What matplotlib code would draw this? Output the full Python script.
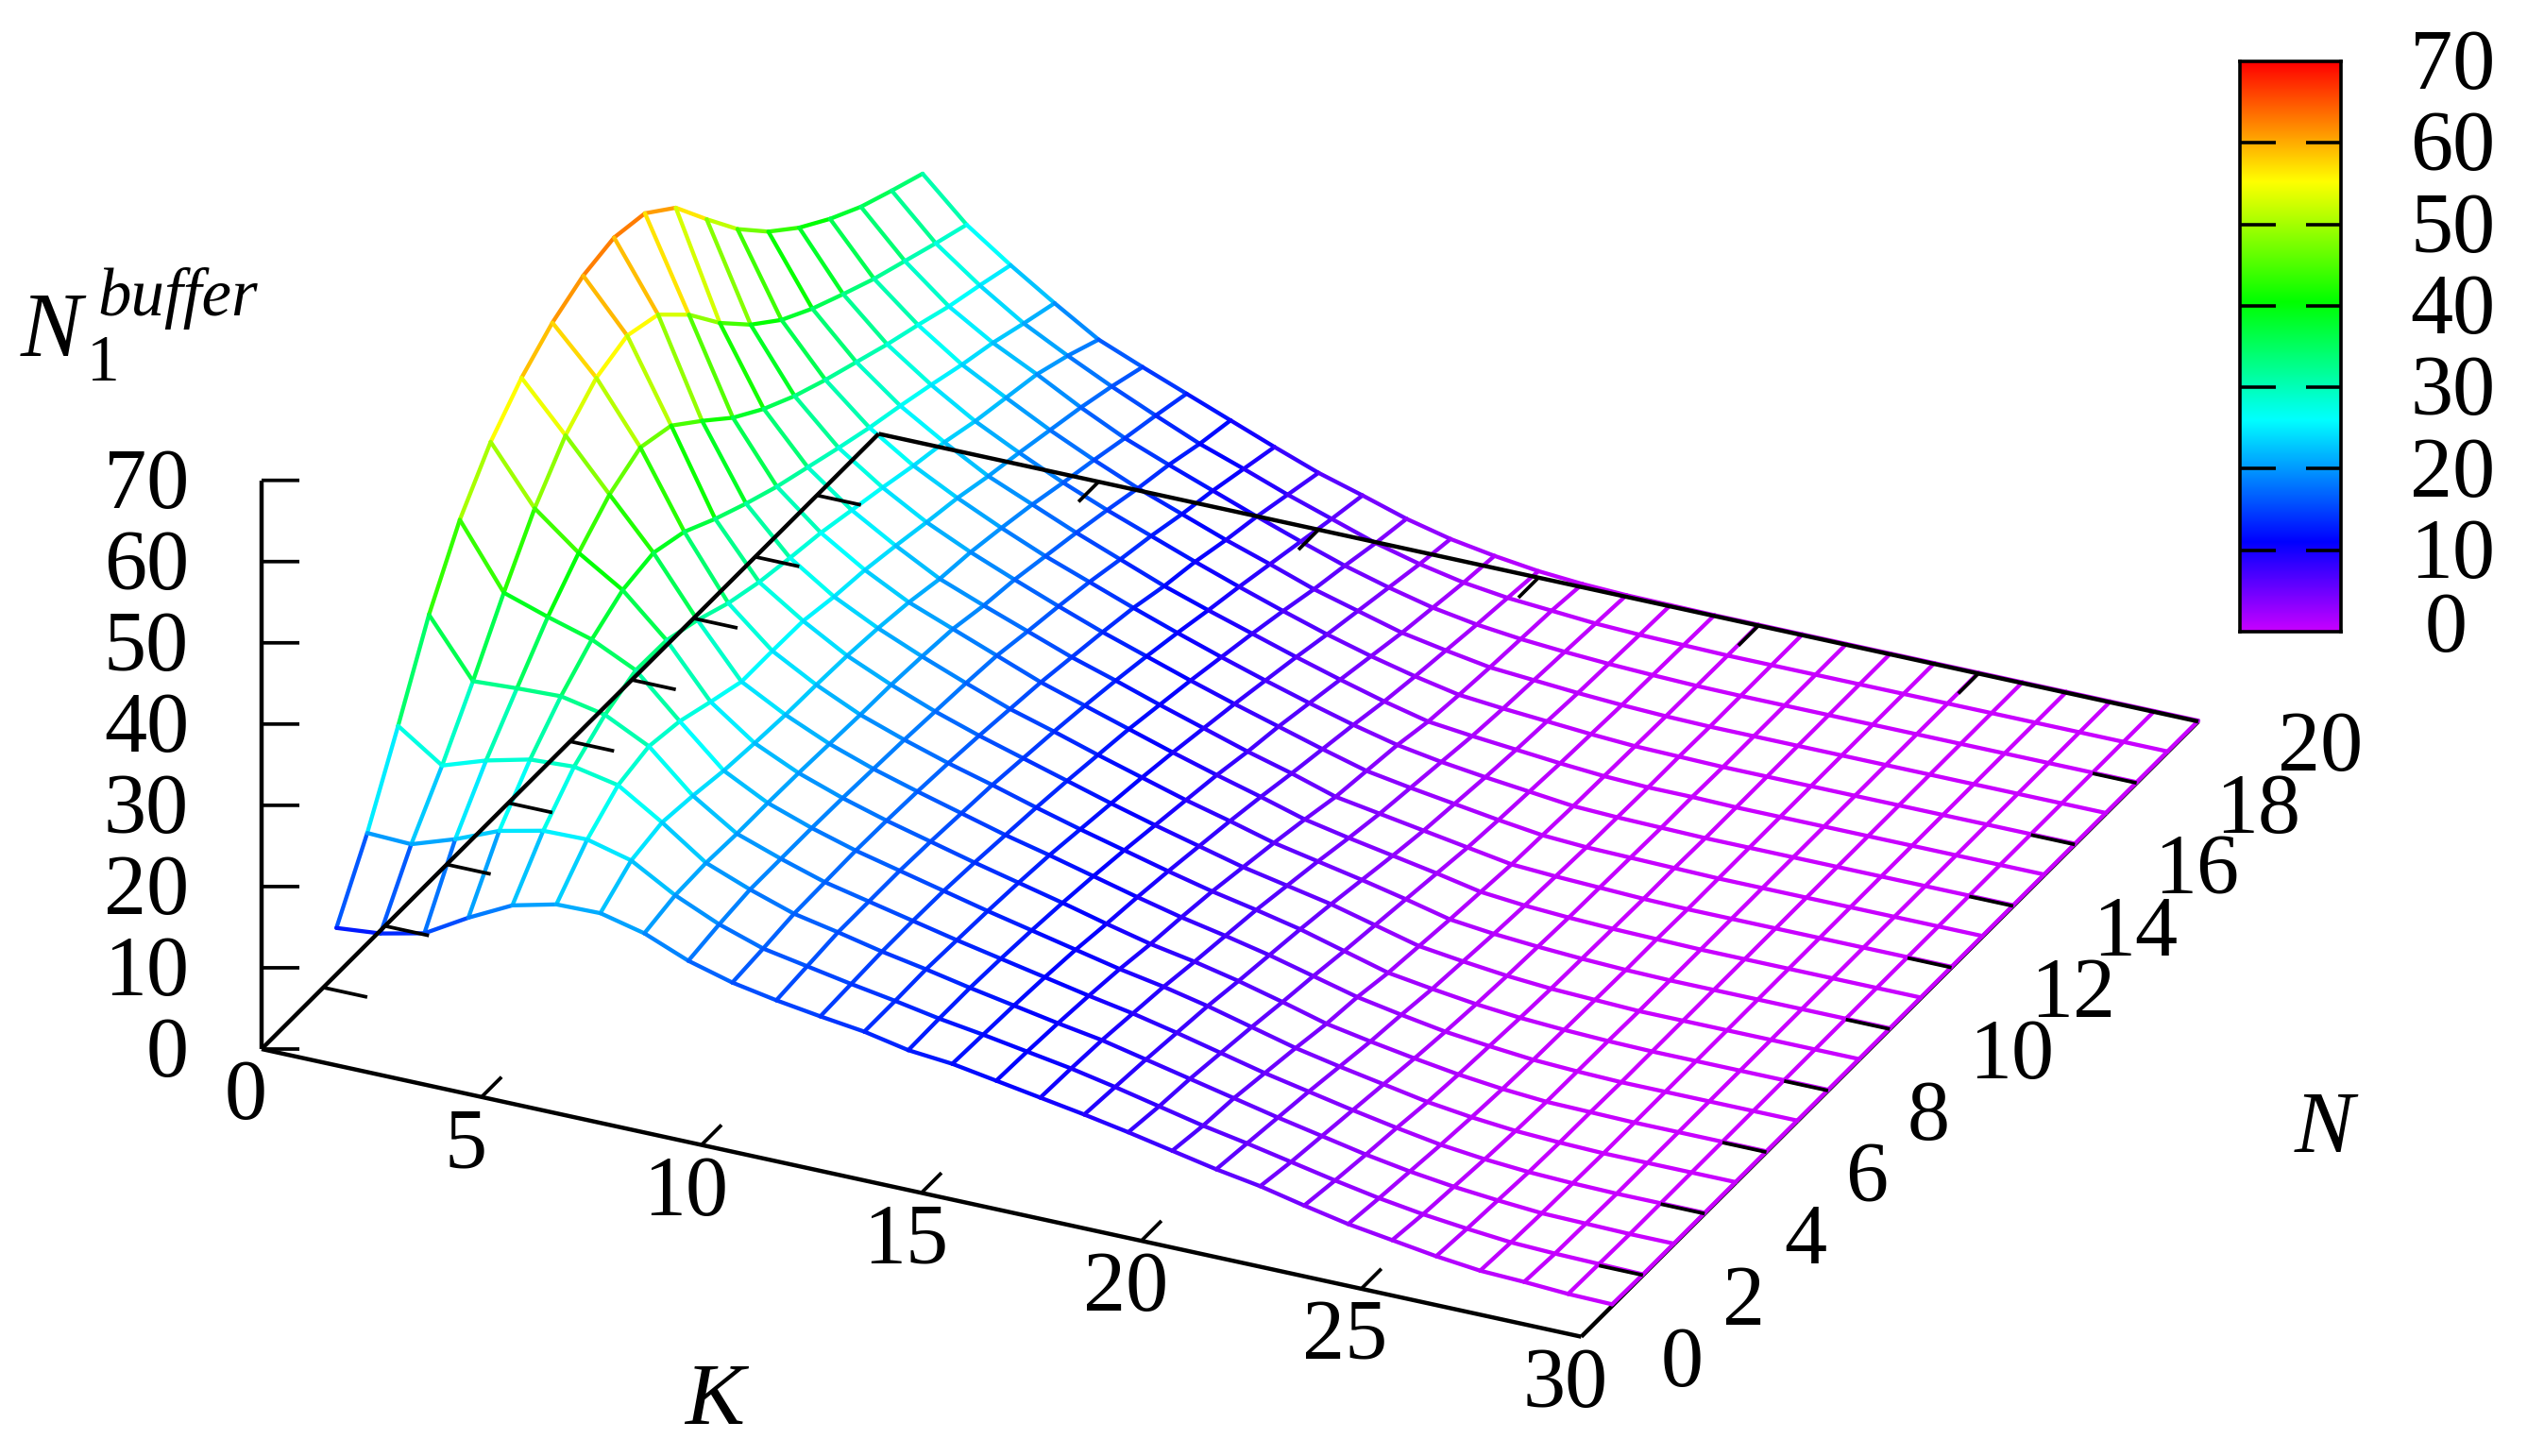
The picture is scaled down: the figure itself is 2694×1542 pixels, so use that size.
import numpy as np
import matplotlib
matplotlib.use("Agg")
import matplotlib.pyplot as plt
from matplotlib.colors import LinearSegmentedColormap, Normalize
from mpl_toolkits.mplot3d import proj3d
from mpl_toolkits.mplot3d.art3d import Line3DCollection

W, H = 2694, 1542
plt.rcParams['font.family'] = ['Liberation Serif', 'DejaVu Serif']

ks = list(range(1, 31))
ns = list(range(1, 21))

# one list per K, values for N = 1..20
k01 = [12.3, 20.2, 29.6, 39.5, 47.4, 53.2, 57.3, 60.3, 62.3, 63.2, 62.4, 59.3, 54.1, 49.1, 45.0, 41.7, 39.0, 36.7, 34.9, 33.2]
k02 = [12.8, 20.0, 25.9, 32.5, 39.6, 46.2, 51.4, 54.7, 56.1, 54.9, 51.1, 46.3, 42.3, 39.1, 36.7, 34.7, 32.8, 31.2, 29.6, 28.1]
k03 = [14.0, 21.8, 27.7, 32.8, 37.8, 41.9, 45.3, 47.3, 46.2, 43.0, 39.6, 36.9, 34.7, 32.9, 31.3, 29.7, 28.3, 26.8, 25.6, 24.3]
k04 = [17.1, 24.0, 29.0, 33.0, 36.2, 38.5, 39.3, 38.1, 35.9, 34.0, 32.3, 30.9, 29.5, 28.2, 27.1, 25.9, 24.6, 23.5, 22.1, 20.8]
k05 = [19.8, 25.2, 29.3, 31.9, 33.6, 33.5, 32.2, 30.5, 29.3, 28.5, 27.8, 26.8, 25.8, 24.7, 23.8, 22.6, 21.7, 20.8, 19.3, 17.5]
k06 = [21.1, 25.3, 28.2, 29.2, 28.5, 27.1, 25.8, 25.8, 25.7, 24.9, 24.4, 23.6, 22.7, 21.9, 20.8, 19.9, 18.9, 17.9, 16.7, 15.3]
k07 = [21.2, 23.9, 24.8, 24.3, 23.6, 23.2, 22.9, 22.8, 22.6, 22.2, 21.6, 20.7, 20.2, 19.4, 18.5, 17.4, 16.4, 15.3, 14.3, 13.2]
k08 = [19.9, 20.8, 21.0, 20.8, 20.8, 20.7, 20.5, 20.3, 20.2, 19.9, 19.5, 18.6, 18.0, 17.1, 16.2, 15.2, 14.1, 13.2, 12.0, 11.1]
k09 = [17.7, 18.4, 18.9, 18.9, 18.9, 18.8, 18.6, 18.4, 18.1, 17.8, 17.4, 16.6, 15.9, 15.1, 14.1, 13.2, 12.1, 11.2, 10.1, 9.0]
k10 = [16.2, 16.6, 17.1, 17.2, 17.3, 17.2, 17.0, 16.7, 16.3, 15.8, 15.3, 14.6, 13.9, 13.1, 12.0, 11.2, 10.1, 9.2, 8.1, 7.0]
k11 = [15.2, 15.6, 16.0, 16.0, 16.0, 15.8, 15.5, 15.2, 14.7, 14.2, 13.6, 12.9, 12.1, 11.2, 10.2, 9.3, 8.3, 7.3, 6.3, 5.4]
k12 = [14.4, 14.6, 14.8, 14.8, 14.7, 14.4, 14.0, 13.6, 13.1, 12.5, 11.9, 11.1, 10.3, 9.4, 8.5, 7.5, 6.4, 5.5, 4.5, 3.7]
k13 = [13.7, 13.7, 13.8, 13.6, 13.4, 13.1, 12.7, 12.1, 11.5, 10.9, 10.2, 9.4, 8.6, 7.7, 6.8, 5.8, 4.9, 4.0, 3.1, 2.4]
k14 = [12.6, 12.7, 12.7, 12.5, 12.2, 11.8, 11.3, 10.7, 10.0, 9.3, 8.6, 7.7, 7.0, 6.1, 5.2, 4.3, 3.4, 2.7, 2.0, 1.5]
k15 = [12.1, 11.9, 11.7, 11.4, 11.0, 10.4, 9.9, 9.3, 8.6, 7.9, 7.1, 6.2, 5.4, 4.6, 3.7, 3.0, 2.4, 1.8, 1.3, 0.8]
k16 = [11.2, 11.0, 10.7, 10.3, 9.8, 9.1, 8.6, 8.0, 7.2, 6.4, 5.5, 4.5, 3.9, 3.3, 2.4, 1.9, 1.5, 1.2, 0.9, 0.4]
k17 = [10.3, 10.1, 9.8, 9.3, 8.8, 8.1, 7.5, 6.9, 6.1, 5.3, 4.4, 3.6, 3.0, 2.4, 1.8, 1.4, 1.1, 0.8, 0.5, 0.2]
k18 = [9.4, 9.0, 8.6, 8.1, 7.6, 6.9, 6.3, 5.7, 5.0, 4.2, 3.4, 2.7, 2.2, 1.7, 1.3, 1.0, 0.7, 0.5, 0.3, 0.15]
k19 = [8.4, 7.8, 7.4, 6.8, 6.2, 5.5, 4.9, 4.2, 3.6, 3.0, 2.4, 1.8, 1.4, 1.1, 0.8, 0.6, 0.4, 0.3, 0.2, 0.1]
k20 = [7.3, 6.6, 6.2, 5.5, 4.8, 4.0, 3.5, 2.7, 2.2, 1.7, 1.3, 0.9, 0.7, 0.5, 0.4, 0.3, 0.2, 0.15, 0.1, 0.1]
k21 = [6.2, 5.6, 5.0, 4.4, 3.7, 3.0, 2.5, 1.9, 1.5, 1.1, 0.8, 0.6, 0.4, 0.3, 0.2, 0.2, 0.1, 0.1, 0.1, 0.1]
k22 = [5.3, 4.5, 3.9, 3.3, 2.7, 2.1, 1.6, 1.2, 0.9, 0.7, 0.5, 0.4, 0.3, 0.2, 0.2, 0.1, 0.1, 0.1, 0.1, 0.1]
k23 = [4.1, 3.4, 2.8, 2.3, 1.7, 1.3, 1.0, 0.7, 0.5, 0.4, 0.3, 0.2, 0.2, 0.1, 0.1, 0.1, 0.1, 0.1, 0.1, 0.1]
k24 = [3.0, 2.4, 1.9, 1.4, 1.0, 0.7, 0.5, 0.4, 0.3, 0.2, 0.2, 0.1, 0.1, 0.1, 0.1, 0.1, 0.1, 0.1, 0.1, 0.1]
k25 = [2.2, 1.6, 1.2, 0.8, 0.5, 0.3, 0.25, 0.2, 0.1, 0.1, 0.1, 0.1, 0.1, 0.1, 0.1, 0.1, 0.1, 0.1, 0.1, 0.1]
k26 = [1.4, 1.0, 0.7, 0.4, 0.25, 0.2, 0.1, 0.1, 0.1, 0.1, 0.1, 0.1, 0.1, 0.1, 0.1, 0.1, 0.1, 0.1, 0.1, 0.1]
k27 = [0.8, 0.5, 0.3, 0.2, 0.1, 0.1, 0.1, 0.1, 0.1, 0.1, 0.1, 0.1, 0.1, 0.1, 0.1, 0.1, 0.1, 0.1, 0.1, 0.1]
k28 = [0.6, 0.3, 0.2, 0.1, 0.1, 0.1, 0.1, 0.1, 0.1, 0.1, 0.1, 0.1, 0.1, 0.1, 0.1, 0.1, 0.1, 0.1, 0.1, 0.1]
k29 = [0.3, 0.2, 0.1, 0.1, 0.1, 0.1, 0.1, 0.1, 0.1, 0.1, 0.1, 0.1, 0.1, 0.1, 0.1, 0.1, 0.1, 0.1, 0.1, 0.1]
k30 = [0.2, 0.1, 0.1, 0.1, 0.1, 0.1, 0.1, 0.1, 0.1, 0.1, 0.1, 0.1, 0.1, 0.1, 0.1, 0.1, 0.1, 0.1, 0.1, 0.1]

k_ticks = [0, 5, 10, 15, 20, 25, 30]
n_ticks = [0, 2, 4, 6, 8, 10, 12, 14, 16, 18, 20]
z_ticks = [0, 10, 20, 30, 40, 50, 60, 70]

palette_pos = [0, 11 / 70, 26 / 70, 40.5 / 70, 55.3 / 70, 1]
palette_col = ['#c800ff', '#0000ff', '#00ffff', '#00ff00', '#ffff00', '#ff0000']

Z = np.array([k01, k02, k03, k04, k05, k06, k07, k08, k09, k10,
              k11, k12, k13, k14, k15, k16, k17, k18, k19, k20,
              k21, k22, k23, k24, k25, k26, k27, k28, k29, k30])

cmap = LinearSegmentedColormap.from_list('rb', list(zip(palette_pos, palette_col)), N=512)
norm = Normalize(0, 70)

fig = plt.figure(figsize=(W / 100, H / 100), dpi=100, facecolor='white')

# big square axes, the 3d box is scaled into place below
side = 4000
y0 = (H - side) / 2 / H
x0 = (W - side) / 2 / W
ax = fig.add_axes([x0, y0, side / W, side / H], projection='3d', computed_zorder=False)
ax.set_proj_type('ortho')
ax.view_init(elev=27.79, azim=-64.94)
ax.set_xlim(0, 30)
ax.set_ylim(0, 20)
ax.set_zlim(0, 70)
ax.set_axis_off()
aspect = (1, 1, 0.4413)


def to_px(x, y, z):
    xs, ys, _ = proj3d.proj_transform(x, y, z, ax.get_proj())
    return ax.transData.transform((xs, ys))


def label(x, y, z, dx, dy, s, ha):
    # tick label at a pixel offset from its point on the box
    p = to_px(x, y, z)
    fig.text((p[0] + dx) / W, (p[1] - dy) / H, s, ha=ha, va='center', fontsize=fs)


# fit box: K axis 1397.5 px wide, origin at pixel (277, 1111)
ax.set_box_aspect(aspect, zoom=1)
ax.apply_aspect()
span = to_px(30, 0, 0)[0] - to_px(0, 0, 0)[0]
ax.set_box_aspect(aspect, zoom=1397.5 / span)
ax.apply_aspect()
o = to_px(0, 0, 0)
ax.set_position([x0 + (277 - o[0]) / W, y0 + (H - 1111 - o[1]) / H, side / W, side / H])
ax.apply_aspect()

# surface lines, one colour per segment
segs = []
vals = []
for i, k in enumerate(ks):
    for j, n in enumerate(ns):
        if j < len(ns) - 1:
            segs.append([(k, n, Z[i, j]), (k, ns[j + 1], Z[i, j + 1])])
            vals.append((Z[i, j] + Z[i, j + 1]) / 2)
        if i < len(ks) - 1:
            segs.append([(k, n, Z[i, j]), (ks[i + 1], n, Z[i + 1, j])])
            vals.append((Z[i, j] + Z[i + 1, j]) / 2)

lc = Line3DCollection(segs, colors=cmap(norm(np.array(vals))), linewidths=3.1, zorder=3,
                      capstyle='round')
ax.add_collection3d(lc, autolim=False)

black = dict(color='black', lw=3.2, solid_capstyle='butt')
thin = dict(color='black', lw=2.7, solid_capstyle='butt')
# base frame, the K=30 edge goes under the surface
ax.plot([30, 30], [0, 20], [0, 0], zorder=2, **black)
ax.plot([0, 30], [0, 0], [0, 0], zorder=4, **black)
ax.plot([0, 0], [0, 20], [0, 0], zorder=4, **black)
ax.plot([0, 30], [20, 20], [0, 0], zorder=4, **black)
ax.plot([0, 0], [0, 0], [0, 70], zorder=4, **black)

for k in k_ticks[1:-1]:
    ax.plot([k, k], [0, 0.65], [0, 0], zorder=4, **thin)
    ax.plot([k, k], [20, 19.35], [0, 0], zorder=4, **thin)
for n in n_ticks[1:-1]:
    ax.plot([0, 1], [n, n], [0, 0], zorder=4, **thin)
    ax.plot([30, 29], [n, n], [0, 0], zorder=4, **thin)
for z in z_ticks:
    ax.plot([0, 0.705], [0, 0.22], [z, z], zorder=4, **thin)

fs = 65
for k in k_ticks:
    label(k, 0, 0, -17, 52, str(k), 'center')
for n in n_ticks:
    label(30, n, 0, 84, 30, str(n), 'left')
for z in z_ticks:
    label(0, 0, z, -77, 7, str(z), 'right')

# axis titles
fig.text(757 / W, 1 - 1486 / H, 'K', style='italic', ha='center', va='center', fontsize=68)
fig.text(2461 / W, 1 - 1197 / H, 'N', style='italic', ha='center', va='center', fontsize=68)
fig.text(22 / W, 1 - 377 / H, 'N', style='italic', ha='left', va='baseline', fontsize=70)
fig.text(92 / W, 1 - 403 / H, '1', ha='left', va='baseline', fontsize=50)
fig.text(103 / W, 1 - 334 / H, 'buffer', style='italic', ha='left', va='baseline', fontsize=51)

# colour box
cb = fig.add_axes([2372 / W, 1 - 669 / H, 107 / W, 604 / H])
cb.imshow(np.linspace(70, 0, 512).reshape(-1, 1), cmap=cmap, norm=norm, aspect='auto',
          extent=[0, 1, 0, 70], interpolation='bilinear')
cb.set_xticks([])
cb.set_yticks(z_ticks[1:-1])
cb.tick_params(axis='y', direction='in', left=True, right=True, length=27, width=2.6,
               labelleft=False, labelright=False)
for s in cb.spines.values():
    s.set_linewidth(2.6)
for z in z_ticks[1:]:
    cb.text(2.53, z - 0.8, str(z), transform=cb.get_yaxis_transform(), ha='right', va='center', fontsize=fs)
cb.text(1.83, 0.2, '0', transform=cb.get_yaxis_transform(), ha='left', va='center', fontsize=fs)

fig.savefig('out.png', dpi=100)
